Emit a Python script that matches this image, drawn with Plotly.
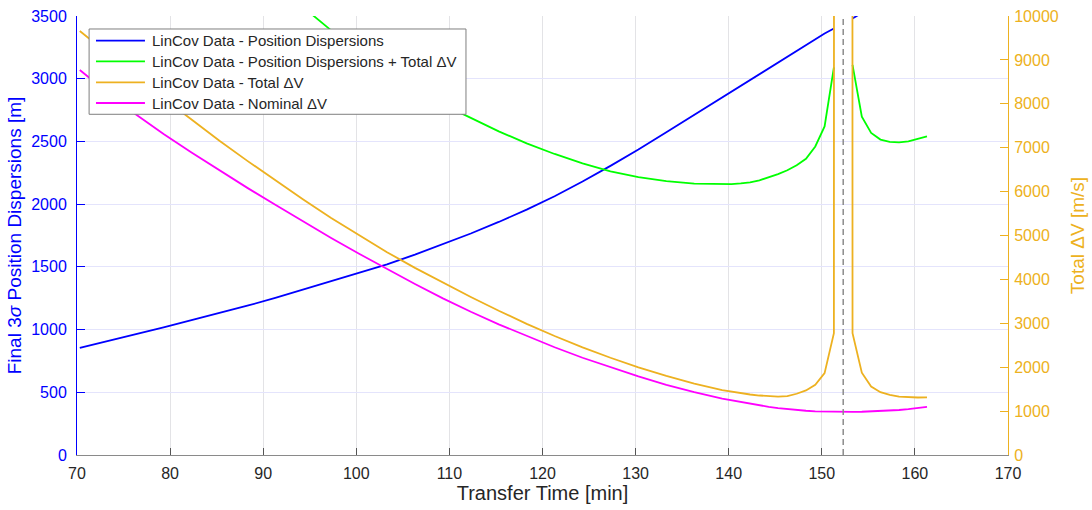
import plotly.graph_objects as go

# Transfer times [min] at which the LinCov runs were sampled
transfer_time = [
    70.3, 73.3, 76.3, 79.3, 82.3, 85.3, 88.3, 91.3, 94.3, 97.3,
    100.3, 103.3, 106.3, 109.3, 112.3, 115.3, 118.3, 121.3, 124.3, 127.3,
    130.3, 133.3, 136.3, 139.3, 140.3, 141.3, 142.3, 143.3, 144.3, 145.3,
    146.3, 147.3, 148.3, 149.3, 150.3, 151.3, 152.3, 153.3, 154.3, 155.3,
    156.3, 157.3, 158.3, 159.3, 160.3, 161.3,
]

# Final 3-sigma position dispersions [m] (left axis); undefined at the singular time
position_dispersions = [
    855, 908, 962, 1018, 1076, 1132, 1190, 1252, 1318, 1386,
    1452, 1520, 1598, 1680, 1766, 1858, 1956, 2063, 2180, 2305,
    2435, 2573, 2713, 2853, 2900, 2946, 2993, 3039, 3085, 3130,
    3176, 3222, 3268, 3314, 3360, 3400, None, 3480, 3525, 3570,
    3615, 3660, 3705, 3750, 3795, 3840,
]

# Position dispersions + total delta-V (left axis); undefined at the singular time
dispersions_plus_dv = [
    5450, 5180, 4920, 4670, 4430, 4200, 3980, 3770, 3570, 3385,
    3215, 3060, 2920, 2795, 2685, 2580, 2485, 2400, 2325, 2262,
    2215, 2183, 2163, 2158, 2160, 2165, 2174, 2190, 2212, 2240,
    2270, 2310, 2362, 2460, 2620, 3090, None, 3110, 2697, 2568,
    2515, 2497, 2492, 2500, 2518, 2540,
]

# Total delta-V [m/s] (right axis)
total_dv = [
    9660, 9140, 8630, 8125, 7635, 7160, 6700, 6255, 5820, 5400,
    5000, 4620, 4262, 3925, 3600, 3285, 2988, 2710, 2452, 2215,
    1998, 1802, 1628, 1478, 1440, 1405, 1378, 1355, 1340, 1332,
    1340, 1395, 1470, 1600, 1865, 2775, 1.0e6, 2775, 1875, 1560,
    1430, 1370, 1330, 1315, 1310, 1314,
]

# Nominal delta-V [m/s] (right axis)
nominal_dv = [
    8770, 8250, 7760, 7310, 6890, 6480, 6085, 5700, 5315, 4943,
    4583, 4233, 3895, 3567, 3262, 2977, 2711, 2455, 2215, 1995,
    1790, 1600, 1432, 1285, 1244, 1204, 1165, 1128, 1097, 1070,
    1045, 1025, 1008, 996, 988, 982, 980, 981, 985, 991,
    1000, 1011, 1025, 1043, 1066, 1095,
]

# Transfer time where the targeting solution becomes singular
singular_time = 152.3

x_ticks = list(range(70, 171, 10))
left_ticks = list(range(0, 3501, 500))
right_ticks = list(range(0, 10001, 1000))

BLUE = "#0000FF"
GREEN = "#00FF00"
ORANGE = "#EDB120"
MAGENTA = "#FF00FF"
DARK = "#262626"
FONT = "Liberation Sans, Arial, Helvetica, sans-serif"

series = [
    ("LinCov Data - Position Dispersions", position_dispersions, BLUE, "y"),
    ("LinCov Data - Position Dispersions + Total ΔV", dispersions_plus_dv, GREEN, "y"),
    ("LinCov Data - Total ΔV", total_dv, ORANGE, "y2"),
    ("LinCov Data - Nominal ΔV", nominal_dv, MAGENTA, "y2"),
]

fig = go.Figure()
for name, values, color, axis in series:
    fig.add_trace(go.Scatter(
        x=transfer_time, y=values, mode="lines", name=name,
        line=dict(color=color, width=1.8), yaxis=axis,
        connectgaps=False, showlegend=False,
    ))

# Vertical marker at the singular transfer time
fig.add_shape(
    type="line", xref="x", yref="paper",
    x0=singular_time, x1=singular_time, y0=0, y1=1,
    line=dict(color="#8C8C8C", width=1.5, dash="6px,4px"),
    layer="above",
)

# Legend box drawn in paper coordinates (upper-left corner of the axes)
legend_left, legend_right = 0.013, 0.4178
legend_bottom, legend_top = 0.7761, 0.9704
row_y = [0.9437, 0.8968, 0.8490, 0.8018]
fig.add_shape(
    type="rect", xref="paper", yref="paper",
    x0=legend_left, x1=legend_right, y0=legend_bottom, y1=legend_top,
    fillcolor="white", line=dict(color="#7F7F7F", width=1), layer="above",
)
for (name, _, color, _), ry in zip(series, row_y):
    fig.add_shape(
        type="line", xref="paper", yref="paper",
        x0=0.0204, x1=0.0730, y0=ry, y1=ry,
        line=dict(color=color, width=1.8), layer="above",
    )
    fig.add_annotation(
        x=0.0784, y=ry, xref="paper", yref="paper",
        xanchor="left", yanchor="middle", showarrow=False,
        text=name, font=dict(family=FONT, size=15, color=DARK),
    )

fig.update_layout(
    width=1092, height=510, autosize=False,
    margin=dict(l=77, r=84, t=16, b=55),
    paper_bgcolor="white", plot_bgcolor="white",
    font=dict(family=FONT, size=16, color=DARK),
    showlegend=False,
    xaxis=dict(
        range=[70, 170], tickvals=x_ticks, automargin=False,
        ticks="inside", ticklen=7, tickcolor="#555555",
        showline=True, linecolor="#8A8A8A", linewidth=1,
        showgrid=True, gridcolor="#E3E3E6", gridwidth=1,
        zeroline=False,
        tickfont=dict(size=16, color=DARK),
        ticklabelstandoff=4,
        title=dict(text="Transfer Time [min]", font=dict(size=20, color=DARK), standoff=4),
    ),
    yaxis=dict(
        range=[0, 3500], tickvals=left_ticks, automargin=False,
        ticks="inside", ticklen=8, tickcolor=BLUE,
        showline=True, linecolor=BLUE, linewidth=1,
        showgrid=True, gridcolor="#E4E4FC", gridwidth=1,
        zeroline=False,
        tickfont=dict(size=16, color=BLUE),
        ticklabelstandoff=6,
        title=dict(text="Final 3<i>σ</i> Position Dispersions [m]",
                   font=dict(size=19, color=BLUE), standoff=4),
    ),
    yaxis2=dict(
        range=[0, 10000], tickvals=right_ticks, tickformat="d", automargin=False,
        overlaying="y", side="right",
        ticks="inside", ticklen=8, tickcolor=ORANGE,
        showline=True, linecolor=ORANGE, linewidth=1,
        showgrid=False, zeroline=False,
        tickfont=dict(size=16, color=ORANGE),
        ticklabelstandoff=2,
        title=dict(text="Total ΔV [m/s]", font=dict(size=19, color=ORANGE), standoff=12),
    ),
)

fig.write_html("out.html")
